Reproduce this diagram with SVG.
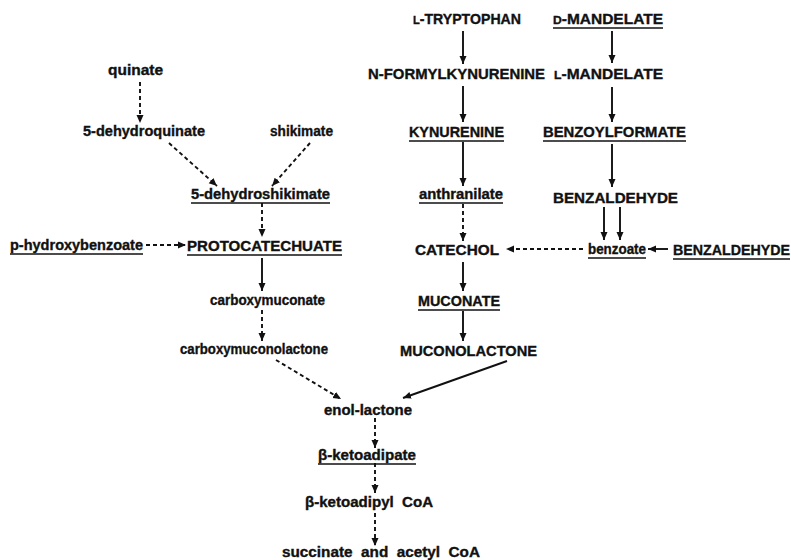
<svg xmlns="http://www.w3.org/2000/svg" width="791" height="560" viewBox="0 0 791 560">
<style>
.t{font-family:"Liberation Sans","Arial",sans-serif;font-weight:bold;font-size:14px;fill:#111;stroke:#111;stroke-width:0.35;}
.s{font-size:11px;}
.u{stroke:#111;stroke-width:1.6;}
.c{stroke:#111;stroke-width:1.9;fill:none;marker-end:url(#ah);}
.d{stroke-dasharray:4 3;}
</style>
<defs>
<marker id="ah" markerUnits="userSpaceOnUse" markerWidth="9" markerHeight="9" refX="8" refY="4" orient="auto">
<path d="M0,0.5 L8,4 L0,7.5 z" fill="#111"/>
</marker>
</defs>
<rect width="791" height="560" fill="#fff"/>
<g id="connectors">
<line class="c" x1="463" y1="31" x2="463" y2="64"/>
<line class="c" x1="463" y1="86" x2="463" y2="122"/>
<line class="c" x1="463" y1="142" x2="463" y2="186"/>
<line class="c d" x1="463" y1="204" x2="463" y2="241"/>
<line class="c" x1="463" y1="262" x2="463" y2="291"/>
<line class="c" x1="463" y1="311" x2="463" y2="341"/>
<line class="c" x1="507" y1="361" x2="403" y2="398"/>
<line class="c" x1="612" y1="31" x2="612" y2="63"/>
<line class="c" x1="612" y1="87" x2="612" y2="122"/>
<line class="c" x1="612" y1="144" x2="612" y2="187"/>
<line class="c" x1="604" y1="207" x2="604" y2="240"/>
<line class="c" x1="620" y1="207" x2="620" y2="240"/>
<line class="c" x1="668" y1="249" x2="648" y2="249"/>
<line class="c d" x1="583" y1="249" x2="506" y2="249"/>
<line class="c d" x1="140" y1="82" x2="140" y2="123"/>
<line class="c d" x1="169" y1="143" x2="217" y2="186"/>
<line class="c d" x1="310" y1="143" x2="272" y2="186"/>
<line class="c d" x1="262" y1="203" x2="262" y2="237"/>
<line class="c d" x1="146" y1="245" x2="186" y2="245"/>
<line class="c" x1="262" y1="258" x2="262" y2="291"/>
<line class="c d" x1="262" y1="310" x2="262" y2="341"/>
<line class="c d" x1="276" y1="360" x2="341" y2="399"/>
<line class="c d" x1="375" y1="418" x2="375" y2="448"/>
<line class="c d" x1="375" y1="463" x2="375" y2="493"/>
<line class="c d" x1="375" y1="513" x2="375" y2="546"/>
</g>
<g id="l-tryptophan"><text class="t" x="413" y="24" textLength="108" lengthAdjust="spacingAndGlyphs"><tspan class="s">L</tspan>-TRYPTOPHAN</text></g>
<g id="d-mandelate"><text class="t" x="553" y="24" textLength="110" lengthAdjust="spacingAndGlyphs"><tspan class="s">D</tspan>-MANDELATE</text><line class="u" x1="553" y1="28" x2="663" y2="28"/></g>
<g id="quinate"><text class="t" x="108" y="75" textLength="55" lengthAdjust="spacingAndGlyphs">quinate</text></g>
<g id="n-formylkynurenine"><text class="t" x="368" y="79" textLength="177" lengthAdjust="spacingAndGlyphs">N-FORMYLKYNURENINE</text></g>
<g id="l-mandelate"><text class="t" x="554" y="79" textLength="109" lengthAdjust="spacingAndGlyphs"><tspan class="s">L</tspan>-MANDELATE</text></g>
<g id="dehydroquinate"><text class="t" x="83" y="136" textLength="122" lengthAdjust="spacingAndGlyphs">5-dehydroquinate</text></g>
<g id="shikimate"><text class="t" x="270" y="136" textLength="63" lengthAdjust="spacingAndGlyphs">shikimate</text></g>
<g id="kynurenine"><text class="t" x="409" y="137" textLength="95" lengthAdjust="spacingAndGlyphs">KYNURENINE</text><line class="u" x1="409" y1="141" x2="504" y2="141"/></g>
<g id="benzoylformate"><text class="t" x="543" y="137" textLength="143" lengthAdjust="spacingAndGlyphs">BENZOYLFORMATE</text><line class="u" x1="543" y1="141" x2="686" y2="141"/></g>
<g id="dehydroshikimate"><text class="t" x="191" y="199" textLength="139" lengthAdjust="spacingAndGlyphs">5-dehydroshikimate</text><line class="u" x1="191" y1="203" x2="330" y2="203"/></g>
<g id="anthranilate"><text class="t" x="419" y="199" textLength="84" lengthAdjust="spacingAndGlyphs">anthranilate</text><line class="u" x1="419" y1="203" x2="503" y2="203"/></g>
<g id="benzaldehyde1"><text class="t" x="553" y="203" textLength="125" lengthAdjust="spacingAndGlyphs">BENZALDEHYDE</text></g>
<g id="p-hydroxybenzoate"><text class="t" x="10" y="250" textLength="133" lengthAdjust="spacingAndGlyphs">p-hydroxybenzoate</text><line class="u" x1="10" y1="254" x2="143" y2="254"/></g>
<g id="protocatechuate"><text class="t" x="187" y="251" textLength="155" lengthAdjust="spacingAndGlyphs">PROTOCATECHUATE</text><line class="u" x1="187" y1="255" x2="342" y2="255"/></g>
<g id="catechol"><text class="t" x="415" y="255" textLength="84" lengthAdjust="spacingAndGlyphs">CATECHOL</text></g>
<g id="benzoate"><text class="t" x="588" y="254" textLength="58" lengthAdjust="spacingAndGlyphs">benzoate</text><line class="u" x1="588" y1="258" x2="646" y2="258"/></g>
<g id="benzaldehyde2"><text class="t" x="673" y="255" textLength="117" lengthAdjust="spacingAndGlyphs">BENZALDEHYDE</text><line class="u" x1="673" y1="259" x2="790" y2="259"/></g>
<g id="carboxymuconate"><text class="t" x="210" y="305" textLength="115" lengthAdjust="spacingAndGlyphs">carboxymuconate</text></g>
<g id="muconate"><text class="t" x="418" y="306" textLength="82" lengthAdjust="spacingAndGlyphs">MUCONATE</text><line class="u" x1="418" y1="310" x2="500" y2="310"/></g>
<g id="carboxymuconolactone"><text class="t" x="180" y="354" textLength="148" lengthAdjust="spacingAndGlyphs">carboxymuconolactone</text></g>
<g id="muconolactone"><text class="t" x="400" y="356" textLength="137" lengthAdjust="spacingAndGlyphs">MUCONOLACTONE</text></g>
<g id="enol-lactone"><text class="t" x="324" y="415" textLength="88" lengthAdjust="spacingAndGlyphs">enol-lactone</text></g>
<g id="ketoadipate"><text class="t" x="318" y="460" textLength="98" lengthAdjust="spacingAndGlyphs">β-ketoadipate</text><line class="u" x1="318" y1="464" x2="416" y2="464"/></g>
<g id="ketoadipyl-coa"><text class="t" x="305" y="507" textLength="128" lengthAdjust="spacingAndGlyphs" xml:space="preserve">β-ketoadipyl  CoA</text></g>
<g id="succinate"><text class="t" x="282" y="557" textLength="198" lengthAdjust="spacingAndGlyphs" xml:space="preserve">succinate  and  acetyl  CoA</text></g>
</svg>
